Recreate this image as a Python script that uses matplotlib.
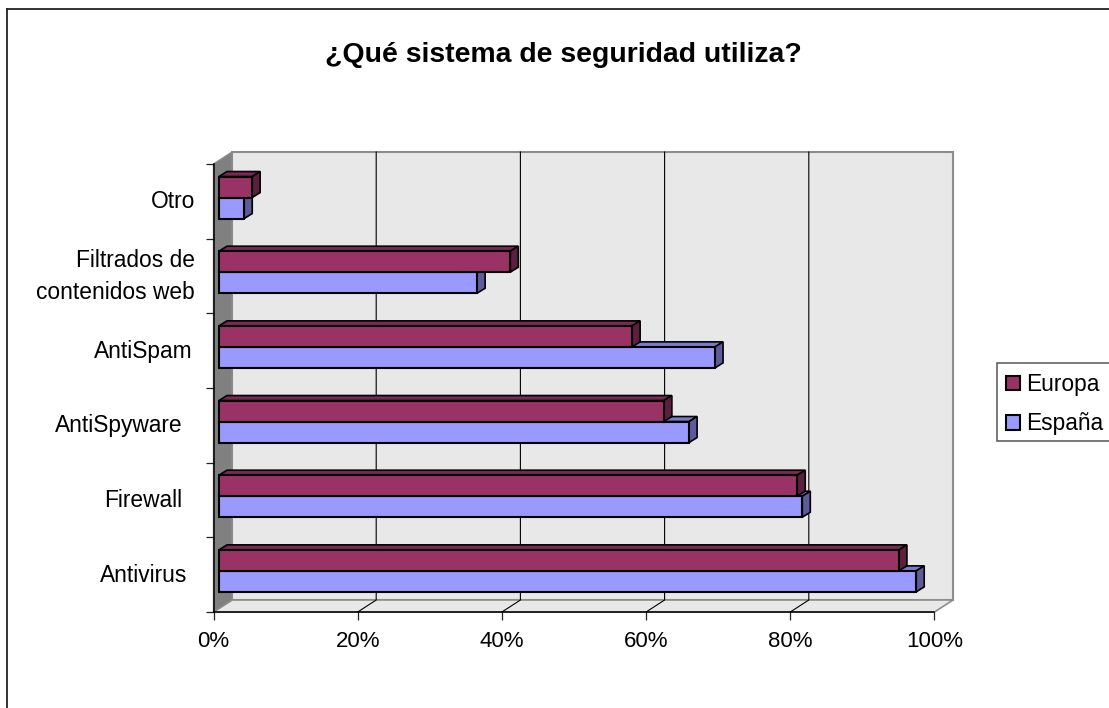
import matplotlib
matplotlib.use('Agg')
import matplotlib.pyplot as plt
from matplotlib.patches import Polygon, Patch, Rectangle
from matplotlib.lines import Line2D

plt.rcParams['font.family'] = ['Liberation Sans', 'DejaVu Sans']

categories = ['Antivirus', 'Firewall', 'AntiSpyware', 'AntiSpam',
              'Filtrados de\ncontenidos web', 'Otro']
europa = [94.3, 80.2, 61.7, 57.3, 40.4, 4.6]
espana = [96.7, 80.9, 65.2, 68.8, 35.8, 3.5]
xticks = [0, 20, 40, 60, 80, 100]

W, H = 1109, 708
fig = plt.figure(figsize=(W / 100, H / 100), dpi=100, facecolor='white')
ax = fig.add_axes([213.5 / W, 1 - 612 / H, 721 / W, 448 / H])
ax.set_xlim(0, 100)
ax.set_ylim(0, 6)
ax.patch.set_visible(False)
for s in ax.spines.values():
    s.set_visible(False)

# pixel -> data helpers
px = 100 / 721
py = 6 / 448
wall_dx, wall_dy = 18.5 * px, 12 * py
bar_dx, bar_dy = 8 * px, 5 * py
bar_x0 = 5.5 * px
bar_y_off = 3.8 * py
bar_h = 21 * py


def poly(pts, fc, ec='none', lw=0, z=1):
    ax.add_patch(Polygon(pts, closed=True, fc=fc, ec=ec, lw=lw, zorder=z,
                         clip_on=False, joinstyle='miter'))


# walls and floor
poly([(wall_dx, wall_dy), (100 + wall_dx, wall_dy), (100 + wall_dx, 6 + wall_dy), (wall_dx, 6 + wall_dy)],
     '#E8E8E8', '#8C8C8C', 1.5)
poly([(0, 0), (100, 0), (100 + wall_dx, wall_dy), (wall_dx, wall_dy)], '#E8E8E8', '#8C8C8C', 1.2)
poly([(0, 0), (wall_dx, wall_dy), (wall_dx, 6 + wall_dy), (0, 6)], '#808080', '#8C8C8C', 1)

# gridlines run up the back wall and across the floor
for t in xticks[1:-1]:
    ax.plot([t, t + wall_dx, t + wall_dx], [0, wall_dy, 6 + wall_dy], color='black', lw=0.8,
            zorder=2, clip_on=False)

# axis lines and ticks
ax.plot([0, 0], [0, 6], color='black', lw=1.1, zorder=3, clip_on=False)
ax.plot([0, 100], [0, 0], color='black', lw=1.1, zorder=3, clip_on=False)
ax.set_xticks(xticks)
ax.set_xticklabels([f'{t}%' for t in xticks], fontsize=16)
ax.tick_params(axis='x', length=6, width=0.9, pad=8, color='#222222')
ax.set_yticks(range(7))
ax.set_yticklabels([])
ax.tick_params(axis='y', length=5.5, width=0.9, color='#222222')


def bar3d(i, y, val, front, top, side, z):
    x0, x1 = bar_x0, bar_x0 + val
    ax.barh(y, val, height=bar_h, left=x0, align='edge', color=front, edgecolor='black',
            linewidth=1.5, zorder=z + 0.1, clip_on=False)
    poly([(x0, y + bar_h), (x1, y + bar_h), (x1 + bar_dx, y + bar_h + bar_dy), (x0 + bar_dx, y + bar_h + bar_dy)],
         top, 'black', 1.2, z)
    poly([(x1, y), (x1 + bar_dx, y + bar_dy), (x1 + bar_dx, y + bar_h + bar_dy), (x1, y + bar_h)],
         side, 'black', 1.2, z)


z = 5
for i in range(5, -1, -1):
    mid = i + 0.5 + bar_y_off
    bar3d(i, mid - bar_h, espana[i], '#9999FF', '#7A7ACC', '#5C5C99', z)
    bar3d(i, mid, europa[i], '#993366', '#7A2952', '#5C1F3D', z + 1)
    z += 2

# category labels are not aligned in the source, right edges in pixels
label_right = [187, 182, 183, 193, 195, 195]
for i, lab in enumerate(categories):
    ax.text((label_right[i] - 213.5) * px, i + 0.5 - 0.5 * py, lab, ha='right', va='center',
            fontsize=16.4, color='black', linespacing=1.55, clip_on=False)

# chart area border, only left and top show
fig.add_artist(Line2D([6.5 / W, 6.5 / W], [0, 1 - 8.5 / H], color='#222222', lw=1.3))
fig.add_artist(Line2D([6.5 / W, 1], [1 - 8.5 / H, 1 - 8.5 / H], color='#222222', lw=1.3))

fig.text(563 / W, 1 - 55 / H, '¿Qué sistema de seguridad utiliza?', ha='center', va='center',
         fontsize=20.4, fontweight='bold', color='black')

# legend frame drawn apart, the vertical and horizontal padding differ
fig.add_artist(Rectangle((997 / W, 1 - 441 / H), 130 / W, 78 / H, transform=fig.transFigure,
                         fc='white', ec='#555555', lw=1.1))
handles = [Patch(fc='#993366', ec='black', lw=1.5), Patch(fc='#9999FF', ec='black', lw=1.5)]
leg = fig.legend(handles, ['Europa', 'España'], loc='upper left', bbox_to_anchor=(1006 / W, 1 - 373 / H),
                 bbox_transform=fig.transFigure, borderaxespad=0, fontsize=16.4, frameon=False,
                 handlelength=0.6, handleheight=0.6, handletextpad=0.3, labelspacing=0.72, borderpad=0)
leg.set_zorder(10)

fig.savefig('out.png', dpi=100)
